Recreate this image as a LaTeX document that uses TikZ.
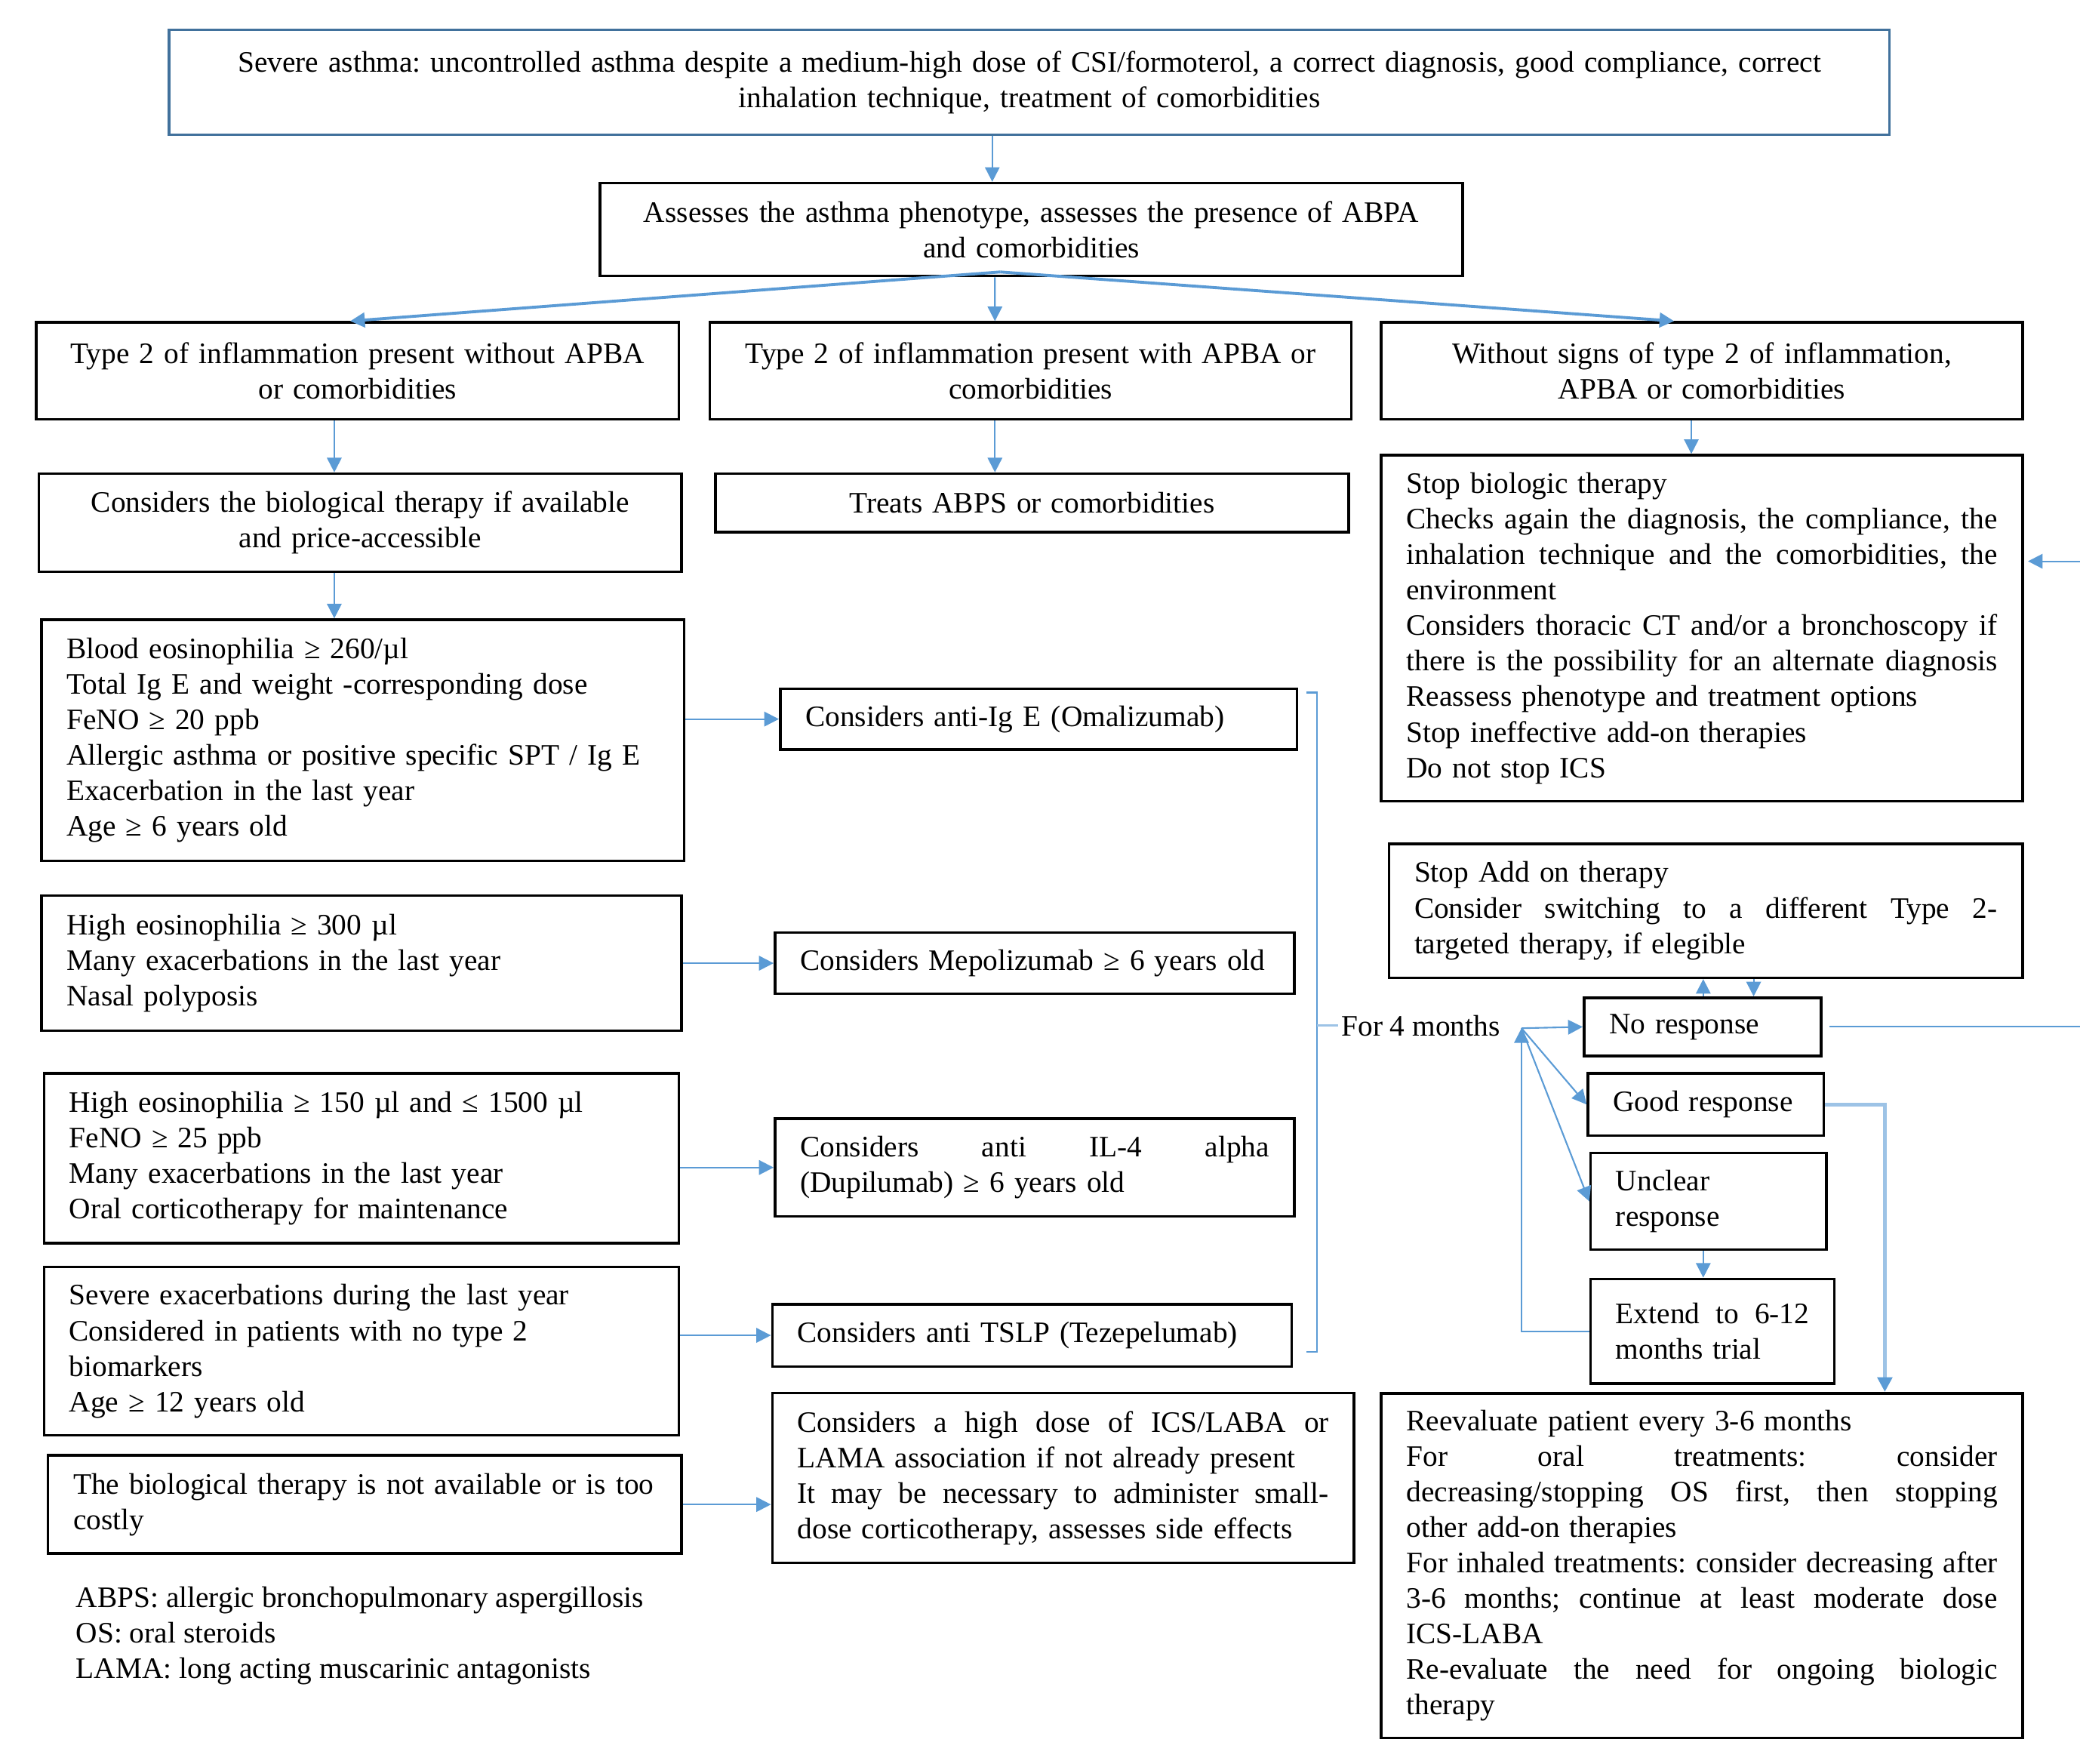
\documentclass[tikz,border=0pt]{standalone}
\usepackage{fontspec}
\setmainfont{Liberation Serif}
\usetikzlibrary{arrows.meta,positioning}
\newlength\px
\setlength\px{0.4997pt}
\newcommand\fs{\fontsize{11.2}{13.4}\selectfont\frenchspacing}
\newcommand\spreadline[1]{\makebox[\hsize][s]{\spaceskip=0pt\xspaceskip=0pt #1}}
\definecolor{linkblue}{HTML}{5B9BD5}
\definecolor{paleblue}{HTML}{9DC3E6}
\definecolor{frameblue}{HTML}{41719C}
\tikzset{
flow/.style={
x=0.017577cm, y=-0.017577cm,
every node/.style={font=\fs},
>={Triangle[length=5.5pt,width=5.5pt]},},
link/.style={->, draw=linkblue, line width=0.6pt},
box/.style={draw, line width=1pt, inner xsep=19\px, inner ysep=0pt, align=left},
size/.style n args={3}{minimum width=#1\px, minimum height=#2\px, text width=#3\px},
}

\begin{document}
\begin{tikzpicture}[flow]
\useasboundingbox (0,0) rectangle (1568,1329.6);
% top of the chart
\node[box,draw=frameblue,align=center,size={1298}{79}{1260}] (sev) at (776,62) {Severe asthma: uncontrolled asthma despite a medium-high dose of CSI/formoterol, a correct diagnosis, good compliance, correct\\inhalation technique, treatment of comorbidities};
\node[box,align=center,size={651}{70}{613}] (ass) at (777.5,173) {Assesses the asthma phenotype, assesses the presence of ABPA\\and comorbidities};
\node[box,align=center,size={485}{73}{447}] (t2no) at (269.5,279.5) {Type 2 of inflammation present without APBA\\or comorbidities};
\node[box,align=center,size={484}{73}{446}] (t2w) at (777,279.5) {Type 2 of inflammation present with APBA or\\comorbidities};
\node[box,align=center,size={484}{73}{446}] (wo) at (1283,279.5) {Without signs of type 2 of inflammation,\\APBA or comorbidities};
\node[box,align=center,size={485}{74}{447}] (bio) at (271.5,394) {Considers the biological therapy if available\\and price-accessible};
\node[box,align=center,size={478}{44}{440}] (treat) at (778,379) {Treats ABPS or comorbidities};
\node[box,size={484}{261}{446}] (stopbio) at (1283,473.5) {Stop biologic therapy\\
\spreadline{Checks again the diagnosis, the compliance, the}\\
\spreadline{inhalation technique and the comorbidities, the}\\
environment\\
\spreadline{Considers thoracic CT and/or a bronchoscopy if}\\
\spreadline{there is the possibility for an alternate diagnosis}\\
Reassess phenotype and treatment options\\
Stop ineffective add-on therapies\\
Do not stop ICS};
% criteria
\node[box,size={485}{182}{447}] (blood) at (273.5,558) {Blood eosinophilia ≥ 260/µl\\
Total Ig E and weight -corresponding dose\\
FeNO ≥ 20 ppb\\
Allergic asthma or positive specific SPT / Ig E\\
Exacerbation in the last year\\
Age ≥ 6 years old};
\node[box,size={483}{102}{445}] (h300) at (272.5,726) {High eosinophilia ≥ 300 µl\\
Many exacerbations in the last year\\
Nasal polyposis};
\node[box,size={479}{128}{441}] (h150) at (272.5,873) {High eosinophilia ≥ 150 µl and ≤ 1500 µl\\
FeNO ≥ 25 ppb\\
Many exacerbations in the last year\\
Oral corticotherapy for maintenance};
\node[box,size={479}{127}{441}] (sevex) at (272.5,1018.5) {Severe exacerbations during the last year\\
Considered in patients with no type 2\\
biomarkers\\
Age ≥ 12 years old};
\node[box,size={478}{74}{440}] (notav) at (275,1134) {The biological therapy is not available or is too\\costly};
\node[align=left,inner sep=0pt,anchor=base west] (abbr) at (57,1265) {ABPS: allergic bronchopulmonary aspergillosis\\
OS: oral steroids\\
LAMA: long acting muscarinic antagonists};
% therapies
\node[box,size={390}{46}{352}] (omal) at (783,542) {Considers anti-Ig E (Omalizumab)};
\node[box,size={392}{46}{354}] (mepo) at (780,726) {Considers Mepolizumab ≥ 6 years old};
\node[box,size={392}{74}{354}] (dupi) at (780,880) {\spreadline{Considers anti IL-4 alpha}\\(Dupilumab) ≥ 6 years old};
\node[box,size={392}{47}{354}] (teze) at (778,1006.5) {Considers anti TSLP (Tezepelumab)};
\node[box,size={439}{128}{401}] (hd) at (801.5,1114) {\spreadline{Considers a high dose of ICS/LABA or}\\
LAMA association if not already present\\
\spreadline{It may be necessary to administer small-}\\
dose corticotherapy, assesses side effects};
% response
\node[box,size={478}{101}{440}] (stopadd) at (1286,686.5) {Stop Add on therapy\\
\spreadline{Consider switching to a different Type 2-}\\
targeted therapy, if elegible};
\node[box,size={179}{44}{141}] (noresp) at (1283.5,774) {No response};
\node[box,size={178}{47}{140}] (good) at (1286,832.5) {Good response};
\node[box,size={178}{73}{140}] (uncl) at (1288,905.5) {Unclear\\response};
\node[box,size={184}{79}{146}] (ext) at (1291,1003.5) {\spreadline{Extend to 6-12}\\months trial};
\node[box,size={484}{260}{446}] (reev) at (1283,1180) {Reevaluate patient every 3-6 months\\
\spreadline{For oral treatments: consider}\\
\spreadline{decreasing/stopping OS first, then stopping}\\
other add-on therapies\\
\spreadline{For inhaled treatments: consider decreasing after}\\
\spreadline{3-6 months; continue at least moderate dose}\\
ICS-LABA\\
\spreadline{Re-evaluate the need for ongoing biologic}\\
therapy};
\node[inner sep=1pt] (four) at (1071,773) {For 4 months};
\coordinate (split) at ([xshift=-23.5\px,yshift=4\px]ass.south);
\coordinate (fan) at (1147,775);
%
\draw[link] ([xshift=-28\px]sev.south) -- ([xshift=-28\px]sev.south |- ass.north);
\draw[link,line width=1.1pt] (split) -- ([xshift=-5.5\px]t2no.north);
\draw[link] ([xshift=-27.5\px]ass.south) -- ([xshift=-27\px]t2w.north);
\draw[link,line width=1.1pt] (split) -- ([xshift=-21\px]wo.north);
\draw[link] ([xshift=-17.5\px]t2no.south) -- ([xshift=-17.5\px]t2no.south |- bio.north);
\draw[link] ([xshift=-27\px]t2w.south) -- ([xshift=-27\px]t2w.south |- treat.north);
\draw[link] ([xshift=-8\px]wo.south) -- ([xshift=-8\px]wo.south |- stopbio.north);
\draw[link] ([xshift=-19.5\px]bio.south) -- ([xshift=-19.5\px]bio.south |- blood.north);
\draw[link] (blood.east |- omal.west) -- (omal.west);
\draw[link] (h300.east |- mepo.west) -- (mepo.west);
\draw[link] (h150.east |- dupi.west) -- (dupi.west);
\draw[link] (sevex.east |- teze.west) -- (teze.west);
\draw[link] (notav.east) -- (notav.east -| hd.west);
\draw[linkblue,line width=0.6pt] (985,522) -- (993,522) -- (993,1019) -- (985,1019);
\draw[paleblue,line width=0.8pt] (993,773) -- (four.west);
\draw[link] (fan) -- (noresp.west);
\draw[link] (fan) -- (good.west);
\draw[link] (fan) -- (uncl.west);
\draw[link] (ext.west) -| (fan);
\draw[link] ([xshift=0.5\px]noresp.north) -- ([xshift=0.5\px]noresp.north |- stopadd.south);
\draw[link] ([xshift=38.5\px]noresp.north |- stopadd.south) -- ([xshift=38.5\px]noresp.north);
\draw[link] ([xshift=-4\px]uncl.south) -- ([xshift=-4\px]uncl.south |- ext.north);
\draw[link] ([xshift=5\px]noresp.east) -- ++(230\px,0) |- ([xshift=3\px,yshift=50.5\px]stopbio.east);
\draw[paleblue,line width=1.3pt,-{Triangle[length=5.5pt,width=5.5pt,color=linkblue]}] (good.east) -| ([xshift=138\px]reev.north);
\end{tikzpicture}
\end{document}
